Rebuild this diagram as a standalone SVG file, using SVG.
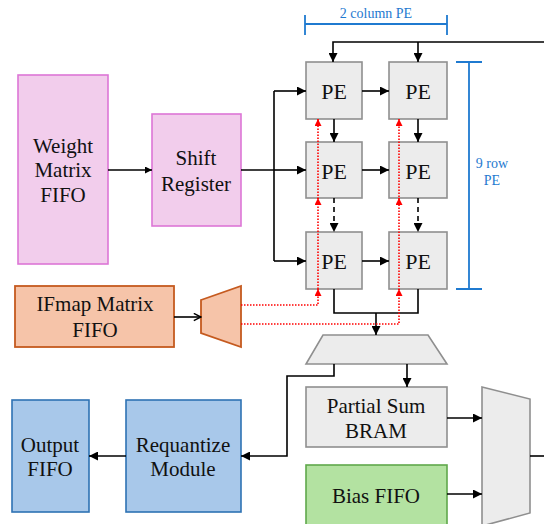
<svg xmlns="http://www.w3.org/2000/svg" width="544" height="524" viewBox="0 0 544 524" font-family="'Liberation Serif', 'DejaVu Serif', serif">
<defs>
<marker id="ah" viewBox="0 0 10 10" refX="10" refY="5" markerWidth="7" markerHeight="7" orient="auto" markerUnits="userSpaceOnUse"><path d="M0,0 L10,5 L0,10 z" fill="#000"/></marker>
<marker id="ahb" viewBox="0 0 10 10" refX="10" refY="5" markerWidth="9" markerHeight="9" orient="auto" markerUnits="userSpaceOnUse"><path d="M0,0 L10,5 L0,10 z" fill="#000"/></marker>
<marker id="aho" viewBox="0 0 10 10" refX="9" refY="5" markerWidth="9" markerHeight="9" orient="auto" markerUnits="userSpaceOnUse"><path d="M1,1 L9,5 L1,9" fill="none" stroke="#000" stroke-width="1.6"/></marker>
<marker id="ahr" viewBox="0 0 10 10" refX="10" refY="5" markerWidth="7" markerHeight="7" orient="auto" markerUnits="userSpaceOnUse"><path d="M0,0 L10,5 L0,10 z" fill="#f00"/></marker>
</defs>
<style>
text{font-family:'Liberation Serif','DejaVu Serif',serif;fill:#111;text-anchor:middle;dominant-baseline:central}
.t{font-size:21px}
.pe{font-size:22px}
.lbl{font-size:14px;fill:#1f7ad0}
.pink{fill:#f2cdec;stroke:#dd76d6;stroke-width:1.6}
.sal{fill:#f6c4a9;stroke:#c55a1f;stroke-width:1.8}
.gray{fill:#ececec;stroke:#8f8f8f;stroke-width:1.6}
.green{fill:#b3e2a1;stroke:#5fa84b;stroke-width:1.6}
.blue{fill:#a8c8ea;stroke:#2e72b3;stroke-width:1.6}
.w{fill:none;stroke:#000;stroke-width:1.6}
.wd{fill:none;stroke:#000;stroke-width:1.6;stroke-dasharray:5,4}
.r{fill:none;stroke:#f00;stroke-width:1.6;stroke-dasharray:1.5,1.5}
.br{fill:none;stroke:#1f7ad0;stroke-width:1.8}
</style>
<rect width="544" height="524" fill="#fff"/>
<g id="weight-fifo"><rect class="pink" x="18" y="75" width="90" height="189"/><text class="t" x="63" y="146">Weight</text><text class="t" x="63" y="170">Matrix</text><text class="t" x="63" y="195">FIFO</text></g>
<g id="shift-register"><rect class="pink" x="152" y="114" width="89" height="112"/><text class="t" x="196" y="158">Shift</text><text class="t" x="196" y="184">Register</text></g>
<g id="ifmap-fifo"><rect class="sal" x="15" y="286" width="159" height="61"/><text class="t" x="95" y="304">IFmap Matrix</text><text class="t" x="95" y="330">FIFO</text></g>
<g id="ifmap-mux"><polygon class="sal" points="201,300 241,286 241,347 201,333"/></g>
<g id="pe11"><rect class="gray" x="306" y="62" width="56" height="57"/><text class="pe" x="334" y="91">PE</text></g>
<g id="pe12"><rect class="gray" x="389" y="62" width="58" height="57"/><text class="pe" x="418" y="91">PE</text></g>
<g id="pe21"><rect class="gray" x="306" y="142" width="56" height="56"/><text class="pe" x="334" y="171">PE</text></g>
<g id="pe22"><rect class="gray" x="389" y="142" width="58" height="56"/><text class="pe" x="418" y="171">PE</text></g>
<g id="pe31"><rect class="gray" x="306" y="232" width="56" height="57"/><text class="pe" x="334" y="261">PE</text></g>
<g id="pe32"><rect class="gray" x="389" y="232" width="58" height="57"/><text class="pe" x="418" y="261">PE</text></g>
<g id="psum-mux"><polygon class="gray" points="323,335 428,335 447,364 306,364"/></g>
<g id="partial-sum-bram"><rect class="gray" x="306" y="387" width="141" height="60"/><text class="t" x="376" y="406">Partial Sum</text><text class="t" x="376" y="431">BRAM</text></g>
<g id="bias-fifo"><rect class="green" x="306" y="465" width="141" height="62"/><text class="t" x="376" y="496">Bias FIFO</text></g>
<g id="out-mux"><polygon class="gray" points="482,387 530,399 530,513 482,526"/></g>
<g id="requantize"><rect class="blue" x="126" y="400" width="115" height="112"/><text class="t" x="183" y="445">Requantize</text><text class="t" x="183" y="469">Module</text></g>
<g id="output-fifo"><rect class="blue" x="12" y="400" width="77" height="112"/><text class="t" x="50" y="445">Output</text><text class="t" x="50" y="469">FIFO</text></g>
<g id="annotations">
<path class="br" d="M305,15 V35 M305,24 H447 M447,15 V35"/>
<text class="lbl" x="376" y="13">2 column PE</text>
<path class="br" d="M456,62 H482 M469,62 V289 M456,289 H482"/>
<text class="lbl" x="492" y="163">9 row</text>
<text class="lbl" x="492" y="180">PE</text>
</g>
<g id="connectors">
<path class="w" d="M108,170 H152" marker-end="url(#ah)"/>
<path class="w" d="M241,170 H274"/>
<path class="w" d="M274,91 V261"/>
<path class="w" d="M274,91 H306" marker-end="url(#ahb)"/>
<path class="w" d="M274,170 H306" marker-end="url(#ahb)"/>
<path class="w" d="M274,261 H306" marker-end="url(#ahb)"/>
<path class="w" d="M544,42 H333 V62" marker-end="url(#ahb)"/>
<path class="w" d="M418,42 V62" marker-end="url(#ahb)"/>
<path class="w" d="M362,91 H389" marker-end="url(#ahb)"/>
<path class="w" d="M362,170 H389" marker-end="url(#ahb)"/>
<path class="w" d="M362,261 H389" marker-end="url(#ahb)"/>
<path class="w" d="M334,119 V142" marker-end="url(#ahb)"/>
<path class="w" d="M418,119 V142" marker-end="url(#ahb)"/>
<path class="wd" d="M334,198 V232" marker-end="url(#ahb)"/>
<path class="wd" d="M418,198 V232" marker-end="url(#ahb)"/>
<path class="w" d="M334,289 V313 H418 V289"/>
<path class="w" d="M376,313 V335" marker-end="url(#ahb)"/>
<path class="w" d="M174,317 H201" marker-end="url(#aho)"/>
<path class="r" d="M241,305 H318 V119"/>
<path class="r" d="M241,324 H399 V119"/>
<path class="r" d="M318,296 V289" marker-end="url(#ahr)"/>
<path class="r" d="M318,205 V198" marker-end="url(#ahr)"/>
<path class="r" d="M318,126 V119" marker-end="url(#ahr)"/>
<path class="r" d="M399,296 V289" marker-end="url(#ahr)"/>
<path class="r" d="M399,205 V198" marker-end="url(#ahr)"/>
<path class="r" d="M399,126 V119" marker-end="url(#ahr)"/>
<path class="w" d="M407,364 V387" marker-end="url(#ahb)"/>
<path class="w" d="M334,364 V376 H287 V456 H241" marker-end="url(#ahb)"/>
<path class="w" d="M447,418 H482" marker-end="url(#ahb)"/>
<path class="w" d="M447,494 H482" marker-end="url(#ahb)"/>
<path class="w" d="M530,456 H544"/>
<path class="w" d="M126,456 H89" marker-end="url(#ahb)"/>
</g>
</svg>
